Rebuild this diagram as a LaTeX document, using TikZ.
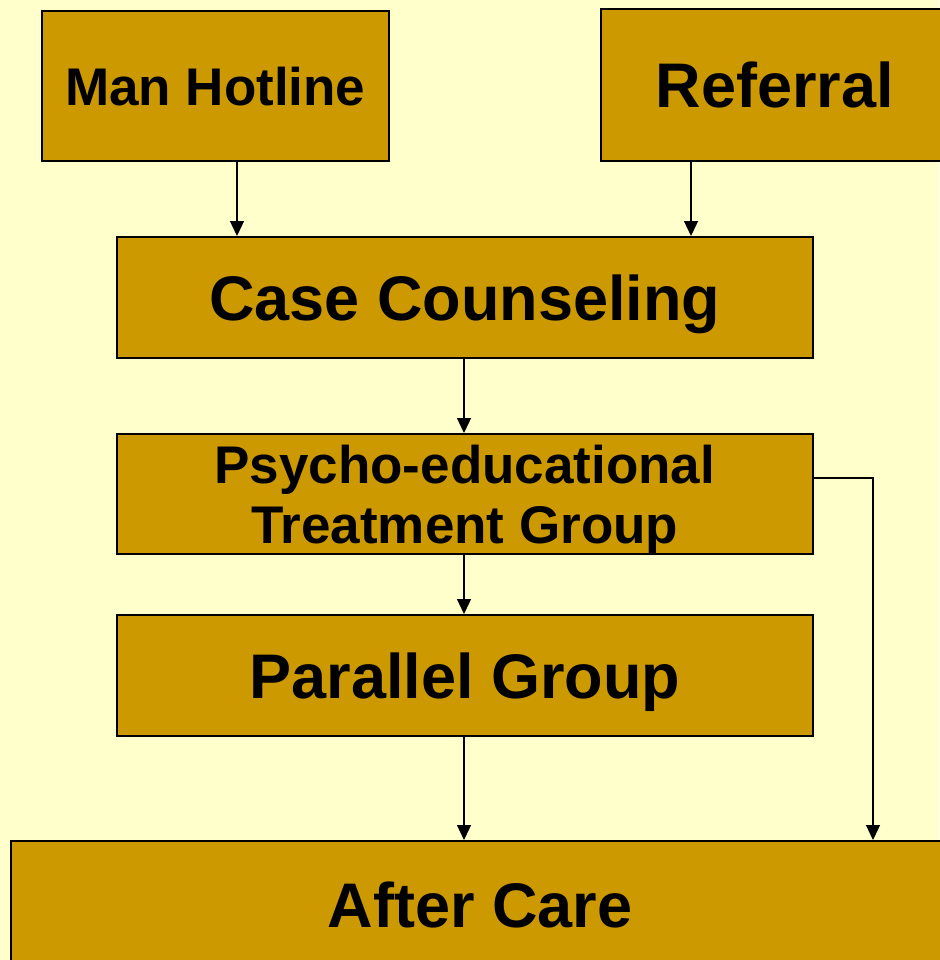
\documentclass[tikz,border=0pt]{standalone}
\usepackage{fontspec}
\setmainfont{Liberation Sans}
\usetikzlibrary{arrows.meta}
\definecolor{bg}{HTML}{FFFFCC}
\definecolor{boxfill}{HTML}{CC9900}
\begin{document}
\begin{tikzpicture}[x=1pt,y=-1pt,
  box/.style={draw=black, line width=1.6pt, fill=boxfill, inner sep=0pt, anchor=north west, align=center, text depth=0pt, font=\bfseries},
  big/.style={font=\bfseries\fontsize{63}{63}\selectfont},
  mid/.style={font=\bfseries\fontsize{53}{60}\selectfont},
  conn/.style={line width=1.3pt, -{Triangle[length=15pt,width=14pt]}}]
\useasboundingbox (0,0) rectangle (939,960);
\fill[bg] (0,0) rectangle (939,960);
\node[box, mid, minimum width=347pt, minimum height=150pt] (hot) at (41,10) {Man Hotline};
\node[box, big, minimum width=360pt, minimum height=152pt] (ref) at (600,8) {\hspace*{-12pt}Referral};
\node[box, big, minimum width=696pt, minimum height=121pt] (case) at (116,236) {Case Counseling};
\node[box, mid, minimum width=696pt, minimum height=120pt] (psy) at (116,433) {Psycho-educational\\Treatment Group};
\node[box, big, minimum width=696pt, minimum height=121pt] (par) at (116,614) {Parallel Group};
\node[box, big, minimum width=960pt, minimum height=150pt] (after) at (10,840) {};
\node[big, inner sep=0pt] (aftert) at (480,905) {After Care};
\coordinate (c1) at (873,478);
\draw[conn] (hot.south -| 237,0) -- (case.north -| 237,0);
\draw[conn] (ref.south -| 691,0) -- (case.north -| 691,0);
\draw[conn] (case.south -| 464,0) -- (psy.north -| 464,0);
\draw[conn] (psy.south -| 464,0) -- (par.north -| 464,0);
\draw[conn] (par.south -| 464,0) -- (after.north -| 464,0);
\draw[conn] (psy.east |- c1) -- (c1) -- (after.north -| c1);
\end{tikzpicture}
\end{document}
